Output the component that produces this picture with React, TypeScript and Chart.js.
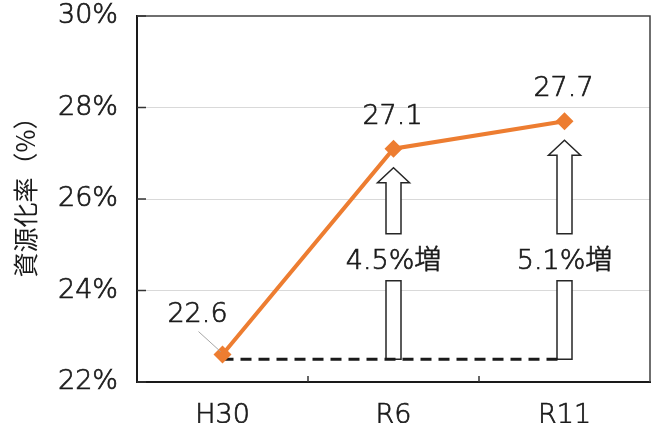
import React, { useEffect, useRef } from "react";
import { Chart, registerables } from "chart.js";

Chart.register(...registerables);

// ---- data ----
const categories = ["H30", "R6", "R11"];
const rates = [22.6, 27.1, 27.7];
const baseline = [22.5, 22.5, 22.5];
const increaseLabels = ["", "4.5%増", "5.1%増"];
const increaseLabelLevel = 24.65;
const yTicks = [22, 24, 26, 28, 30];
const yTitle = "資源化率（%）";

const FONT = "'DejaVu Sans', 'Noto Sans CJK JP', sans-serif";
const WEIGHT = "200";
const STROKE = 0.7;
const TEXT = "#1a1a1a";
const ORANGE = "#ED7D31";

function drawText(ctx: CanvasRenderingContext2D, s: string, x: number, y: number) {
  ctx.fillText(s, x, y);
  ctx.save();
  ctx.lineWidth = STROKE;
  ctx.strokeStyle = TEXT;
  ctx.strokeText(s, x, y);
  ctx.restore();
}

const overlay = {
  id: "overlay",
  beforeDatasetsDraw(chart: any) {
    const { ctx, scales } = chart;
    const x = scales.x;
    const y = scales.y;
    ctx.save();
    ctx.lineWidth = 1.5;
    ctx.strokeStyle = "#262626";
    ctx.fillStyle = "#ffffff";
    increaseLabels.forEach((lab, i) => {
      if (!lab) return;
      const cx = x.getPixelForValue(i);
      const yb = y.getPixelForValue(baseline[i]);
      const tip = y.getPixelForValue(rates[i]) + 19;
      const ly = y.getPixelForValue(increaseLabelLevel);
      const sw = 7.5, hw = 16, hh = 15;
      const shaftBottom = ly - 27;
      ctx.beginPath();
      ctx.moveTo(cx, tip);
      ctx.lineTo(cx + hw, tip + hh);
      ctx.lineTo(cx + sw, tip + hh);
      ctx.lineTo(cx + sw, shaftBottom);
      ctx.lineTo(cx - sw, shaftBottom);
      ctx.lineTo(cx - sw, tip + hh);
      ctx.lineTo(cx - hw, tip + hh);
      ctx.closePath();
      ctx.fill();
      ctx.stroke();
      const rt = ly + 20;
      ctx.beginPath();
      ctx.rect(cx - sw, rt, 2 * sw, yb - rt);
      ctx.fill();
      ctx.stroke();
      // label
      ctx.fillStyle = TEXT;
      ctx.font = `${WEIGHT} 27px ${FONT}`;
      ctx.textAlign = "center";
      ctx.textBaseline = "middle";
      drawText(ctx, lab, cx, ly + 1);
      ctx.fillStyle = "#ffffff";
    });
    ctx.restore();
  },
  afterDatasetsDraw(chart: any) {
    const { ctx, chartArea, scales } = chart;
    const { left, right, top, bottom } = chartArea;
    const x = scales.x;
    const y = scales.y;
    ctx.save();
    // value labels
    ctx.font = `${WEIGHT} 27px ${FONT}`;
    ctx.fillStyle = TEXT;
    ctx.textAlign = "center";
    ctx.textBaseline = "alphabetic";
    rates.forEach((v, i) => {
      const px = x.getPixelForValue(i);
      const py = y.getPixelForValue(v);
      if (i === 0) {
        drawText(ctx, v.toFixed(1), px - 25, py - 33);
        ctx.strokeStyle = "#a6a6a6";
        ctx.lineWidth = 1;
        ctx.beginPath();
        ctx.moveTo(px - 24, py - 23);
        ctx.lineTo(px - 2, py - 3);
        ctx.stroke();
      } else {
        drawText(ctx, v.toFixed(1), px - 1, py - 25);
      }
    });
    // frame top/right
    ctx.strokeStyle = "#404040";
    ctx.lineWidth = 1.5;
    ctx.beginPath();
    ctx.moveTo(left, top);
    ctx.lineTo(right, top);
    ctx.lineTo(right, bottom);
    ctx.stroke();
    // inward ticks y
    ctx.strokeStyle = "#333333";
    ctx.lineWidth = 1.5;
    yTicks.forEach((t) => {
      const py = y.getPixelForValue(t);
      ctx.beginPath();
      ctx.moveTo(left, py);
      ctx.lineTo(left + 9, py);
      ctx.stroke();
    });
    // inward ticks x (between categories)
    for (let i = 0; i < categories.length - 1; i++) {
      const px = (x.getPixelForValue(i) + x.getPixelForValue(i + 1)) / 2;
      ctx.beginPath();
      ctx.moveTo(px, bottom);
      ctx.lineTo(px, bottom - 6);
      ctx.stroke();
    }
    // y title
    ctx.translate(25, (top + bottom) / 2 - 8);
    ctx.rotate(-Math.PI / 2);
    ctx.font = `25px 'Noto Sans CJK JP', sans-serif`;
    ctx.fillStyle = TEXT;
    ctx.textAlign = "center";
    ctx.textBaseline = "middle";
    ctx.fillText(yTitle, 0, 0);
    ctx.restore();
  },
};

export default function App() {
  const ref = useRef<HTMLCanvasElement | null>(null);
  useEffect(() => {
    document.body.style.margin = "0";
    const canvas = ref.current;
    if (!canvas) return;
    const chart = new Chart(canvas, {
      type: "line",
      data: {
        labels: categories,
        datasets: [
          {
            label: "資源化率",
            data: rates,
            borderColor: ORANGE,
            backgroundColor: ORANGE,
            borderWidth: 4,
            pointStyle: "rectRot",
            pointRadius: 9,
            pointBorderWidth: 0,
            pointBackgroundColor: ORANGE,
            tension: 0,
            order: 1,
          },
          {
            label: "base",
            data: baseline,
            borderColor: "#1a1a1a",
            borderWidth: 3,
            borderDash: [11, 7],
            pointRadius: 0,
            order: 2,
          },
        ],
      },
      options: {
        responsive: false,
        animation: false,
        layout: { padding: { top: 16, right: 5, left: 0, bottom: 0 } },
        plugins: {
          legend: { display: false },
          tooltip: { enabled: false },
          title: { display: false },
        },
        scales: {
          x: {
            offset: true,
            grid: { display: false, drawTicks: false },
            border: { display: true, color: "#1a1a1a", width: 2 },
            ticks: {
              color: TEXT,
              font: { family: FONT, size: 27, weight: WEIGHT },
              textStrokeColor: TEXT,
              textStrokeWidth: STROKE,
              padding: 18,
            },
            afterFit: (s: any) => {
              s.height = 41;
              s.paddingLeft = 0;
              s.paddingRight = 0;
            },
          },
          y: {
            min: 22,
            max: 30,
            grid: {
              color: (c: any) => (c.tick && c.tick.value === 30 ? "rgba(0,0,0,0)" : "#d9d9d9"),
              lineWidth: 1,
              drawTicks: false,
            },
            border: { display: true, color: "#1a1a1a", width: 2 },
            ticks: {
              stepSize: 2,
              color: TEXT,
              font: { family: FONT, size: 27, weight: WEIGHT },
              textStrokeColor: TEXT,
              textStrokeWidth: STROKE,
              padding: 19,
              callback: (v: any) => `${v}%`,
            },
            afterFit: (s: any) => {
              s.width = 137;
              s.paddingTop = 0;
              s.paddingBottom = 0;
            },
          },
        },
      },
      plugins: [overlay],
    } as any);
    return () => chart.destroy();
  }, []);
  return (
    <div style={{ width: 659, height: 423 }}>
      <canvas ref={ref} width={659} height={423} />
    </div>
  );
}
